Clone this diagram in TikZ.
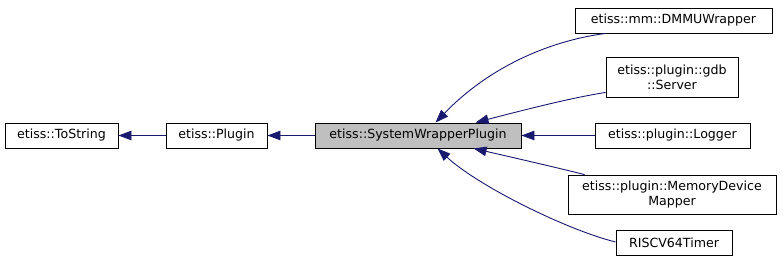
\documentclass[tikz,border=0pt]{standalone}
\usepackage{fontspec}
\setmainfont{DejaVu Sans}
\usetikzlibrary{arrows.meta,calc}
\definecolor{edgeblue}{HTML}{191970}
\definecolor{curfill}{HTML}{BFBFBF}
\begin{document}
\begin{tikzpicture}[x=1pt,y=-1pt,
  cls/.style={draw=black,line width=0.9pt,fill=white,rectangle,inner sep=0pt,
    align=center,font=\fontsize{12.6}{15}\selectfont},
  edge/.style={draw=edgeblue,line width=0.9pt,
    {Triangle[length=13pt,width=9.5pt]}-}]
\useasboundingbox (0,0) rectangle (783,272);
% class boxes
\node[cls,minimum width=113pt,minimum height=25pt] (tostr) at (61.5,135.5) {etiss::ToString};
\node[cls,minimum width=101pt,minimum height=25pt] (plugin) at (216.5,135.5) {etiss::Plugin};
\node[cls,fill=curfill,minimum width=206pt,minimum height=25pt] (swp) at (418,135.5) {etiss::SystemWrapperPlugin};
\node[cls,minimum width=197pt,minimum height=25pt] (dmmu) at (673.5,20.5) {etiss::mm::DMMUWrapper};
\node[cls,minimum width=132pt,minimum height=40pt] (gdb) at (672,77) {etiss::plugin::gdb\\::Server};
\node[cls,minimum width=155pt,minimum height=25pt] (logger) at (672.5,135.5) {etiss::plugin::Logger};
\node[cls,minimum width=208pt,minimum height=39pt] (mdm) at (672,194.5) {etiss::plugin::MemoryDevice\\Mapper};
\node[cls,minimum width=116pt,minimum height=25pt] (timer) at (674,242.5) {RISCV64Timer};
% inheritance edges
\draw[edge] (tostr.east) -- (plugin.west);
\draw[edge] (plugin.east) -- (swp.west);
\draw[edge] (swp.east) -- (logger.west);
\draw[edge] ($(swp.north west)+(121,0)$) .. controls (488,68) and (548,41) .. ($(dmmu.south west)+(31,0)$);
\draw[edge] ($(swp.north west)+(161,0)$) .. controls (520,111) and (570,98) .. ($(gdb.south west)+(0,-5)$);
\draw[edge] ($(swp.south west)+(159,0)$) .. controls (515,158) and (550,166) .. ($(mdm.north west)+(17,0)$);
\draw[edge] ($(swp.south west)+(123,0)$) .. controls (478,186) and (567,230) .. ($(timer.west)+(0,-0.5)$);
\end{tikzpicture}
\end{document}
